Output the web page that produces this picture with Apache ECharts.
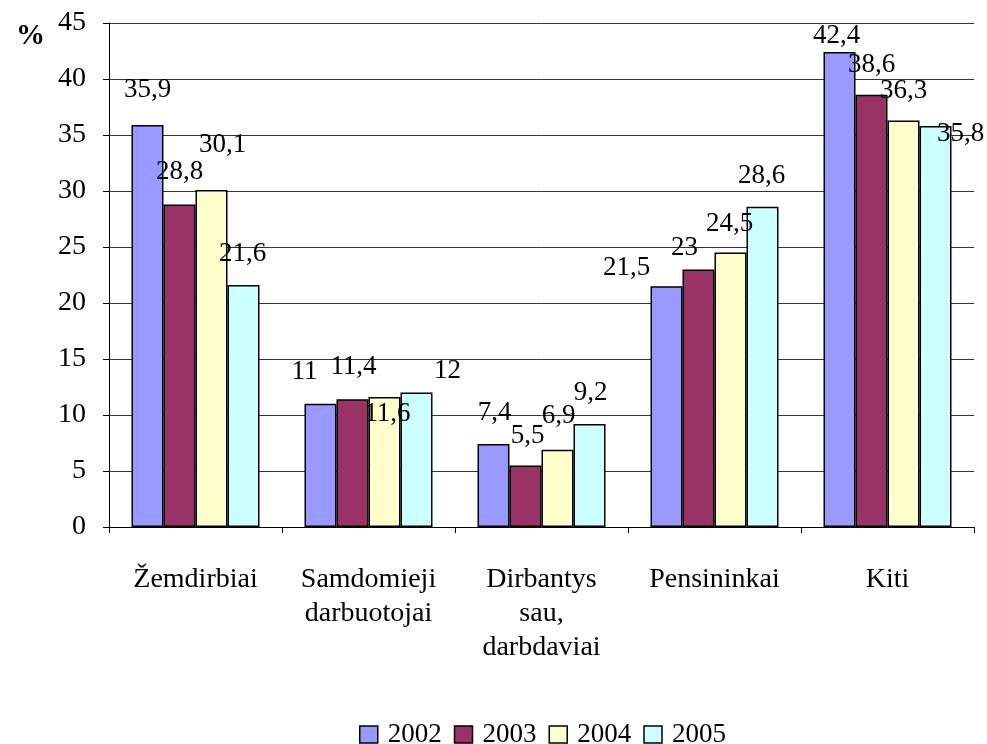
<!DOCTYPE html>
<html lang="lt">
<head>
    <meta charset="UTF-8">
    <title>Gyventojų grupės</title>
    <script src="https://cdn.jsdelivr.net/npm/echarts@6/dist/echarts.min.js"></script>
    <style>
        html, body { margin: 0; padding: 0; background: #fff; }
        #main { width: 987px; height: 744px; }
    </style>
</head>
<body>
<div id="main"></div>
<script type="text/javascript">
    var categories = ['Žemdirbiai', 'Samdomieji\ndarbuotojai', 'Dirbantys\nsau,\ndarbdaviai', 'Pensininkai', 'Kiti'];
    var years = ['2002', '2003', '2004', '2005'];
    var v2002 = [35.9, 11, 7.4, 21.5, 42.4];
    var v2003 = [28.8, 11.4, 5.5, 23, 38.6];
    var v2004 = [30.1, 11.6, 6.9, 24.5, 36.3];
    var v2005 = [21.6, 12, 9.2, 28.6, 35.8];
    var yTicks = [0, 5, 10, 15, 20, 25, 30, 35, 40, 45];

    var colors = ['#9999FF', '#993366', '#FFFFCC', '#CCFFFF'];
    // hand placed label nudges [dx, dy], as in the original chart
    var nudge = [
        [[0, -22], [-16, -19], [1, -18], [-40, -5], [-3, -3]],
        [[0, -20], [1, -19], [2, -16], [-14, -8], [0, -17]],
        [[11, -32], [3, 30], [1, -21], [-1, -16], [0, -17]],
        [[-1, -18], [31, -9], [1, -18], [-1, -18], [25, 21]]
    ];

    var font = 'Liberation Serif';
    var allValues = [v2002, v2003, v2004, v2005];

    var series = years.map(function (y, i) {
        return {
            name: y,
            type: 'bar',
            barWidth: 32,
            barGap: '0%',
            itemStyle: { color: colors[i], borderColor: '#000', borderWidth: 1.5 },
            data: allValues[i].map(function (v, j) {
                return {
                    value: v,
                    label: { offset: nudge[i][j] }
                };
            }),
            label: {
                show: true,
                position: 'top',
                distance: 0,
                color: '#000',
                fontFamily: font,
                fontSize: 27,
                lineHeight: 26,
                formatter: function (p) {
                    return String(p.value).replace('.', ',');
                }
            }
        };
    });

    var myChart = echarts.init(document.getElementById('main'));
    myChart.setOption({
        animation: false,
        title: {
            text: '%',
            left: 11,
            top: 17,
            textStyle: { fontFamily: font, fontSize: 29, fontWeight: 'bold', color: '#000' }
        },
        legend: {
            data: years,
            left: 354,
            top: 716,
            itemWidth: 18,
            itemHeight: 17,
            itemGap: 12,
            icon: 'rect',
            itemStyle: { borderColor: '#000', borderWidth: 1.5 },
            textStyle: { fontFamily: font, fontSize: 27, color: '#000', padding: [0, 0, 0, 5] }
        },
        grid: { left: 109, right: 13, top: 23, bottom: 217, containLabel: false },
        xAxis: {
            type: 'category',
            data: categories,
            axisLine: { lineStyle: { color: '#000', width: 1 } },
            axisTick: { show: true, length: 6, lineStyle: { color: '#000' } },
            axisLabel: {
                color: '#000',
                fontFamily: font,
                fontSize: 28,
                lineHeight: 34,
                margin: 36,
                interval: 0
            }
        },
        yAxis: {
            type: 'value',
            min: yTicks[0],
            max: yTicks[yTicks.length - 1],
            interval: 5,
            axisLine: { show: true, lineStyle: { color: '#000', width: 1 } },
            axisTick: { show: true, length: 6, lineStyle: { color: '#000' } },
            axisLabel: {
                color: '#000',
                fontFamily: font,
                fontSize: 28,
                margin: 23
            },
            splitLine: { lineStyle: { color: '#333', width: 1 } }
        },
        series: series
    });
</script>
</body>
</html>
